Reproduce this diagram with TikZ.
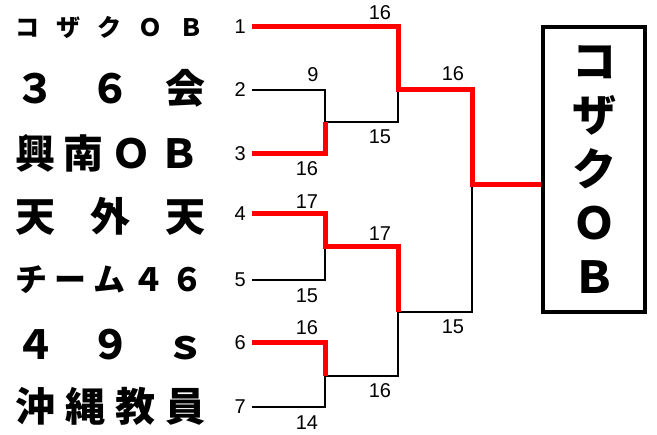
\documentclass[tikz,border=0pt]{standalone}
\usepackage{fontspec}
\setmainfont{Liberation Sans}
\newfontfamily\jpfont{Noto Sans CJK JP}
\definecolor{winred}{HTML}{FF0000}

\begin{document}
\begin{tikzpicture}[x=1pt, y=-1pt,
  seed/.style={anchor=east, inner xsep=6pt, inner ysep=0pt, font=\fontsize{20}{20}\selectfont},
  team/.style={anchor=west, inner sep=0pt, font=\jpfont\bfseries\fontsize{#1}{#1}\selectfont},
  score/.style={inner sep=0pt, font=\fontsize{20}{20}\selectfont},
  win/.style={draw=winred, line width=5pt},
  lose/.style={draw=black, line width=1.5pt},
  champbox/.style={draw, line width=3.5pt, minimum width=102pt, minimum height=285pt,
    inner sep=0pt, align=center, font=\jpfont\bfseries\fontsize{44}{54}\selectfont}]

  \useasboundingbox (0,0) rectangle (657,435);

  % Team names
  \node[team=24] (n1) at (15,27) {\makebox[188pt][s]{コ\hfill ザ\hfill ク\hfill Ｏ\hfill Ｂ}};
  \node[team=40] (n2) at (15,88) {\makebox[190pt][s]{３\hfill ６\hfill 会}};
  \node[team=40] (n3) at (15,153) {\makebox[184pt][s]{興\hfill 南\hfill Ｏ\hfill Ｂ}};
  \node[team=40] (n4) at (15,216) {\makebox[190pt][s]{天\hfill 外\hfill 天}};
  \node[team=32] (n5) at (15,280) {\makebox[188pt][s]{チ\hfill ー\hfill ム\hfill ４\hfill ６}};
  \node[team=40] (n6) at (15,345) {\makebox[190pt][s]{４\hfill ９\hfill ｓ}};
  \node[team=40] (n7) at (15,406) {\makebox[190pt][s]{沖\hfill 縄\hfill 教\hfill 員}};

  % Seed numbers
  \node[seed] (t1) at (252,27) {1};
  \node[seed] (t2) at (252,90) {2};
  \node[seed] (t3) at (252,154) {3};
  \node[seed] (t4) at (252,214) {4};
  \node[seed] (t5) at (252,280) {5};
  \node[seed] (t6) at (252,343) {6};
  \node[seed] (t7) at (252,407) {7};

  % Junctions of the bracket
  \coordinate (m23) at (325,122);
  \coordinate (m45) at (325,247);
  \coordinate (m67) at (325,376);
  \coordinate (s1) at (398,90);
  \coordinate (s2) at (398,312);
  \coordinate (f) at (472,185);

  % Champion
  \node[champbox] (champ) at (594,169.5) {コ\\ザ\\ク\\Ｏ\\Ｂ};

  % Losing sides
  \draw[lose] (t2.east) -| (m23) -| (s1);
  \draw[lose] (t5.east) -| (m45);
  \draw[lose] (t7.east) -| (m67) -| (s2);
  \draw[lose] (s2) -| (f);

  % Winning sides
  \draw[win] (t1.east) -| (s1) -| (f) -- (f -| champ.west);
  \draw[win] (t3.east) -| (m23);
  \draw[win] (t4.east) -| (m45) -| (s2);
  \draw[win] (t6.east) -| (m67);

  % Scores
  \node[score] (r1a) at (380,13) {16};
  \node[score] (r1b) at (380,137) {15};
  \node[score] (r2a) at (313,75) {9};
  \node[score] (r2b) at (307,169) {16};
  \node[score] (r3a) at (307,202) {17};
  \node[score] (r3b) at (307,296) {15};
  \node[score] (r4a) at (380,234) {17};
  \node[score] (r4b) at (380,391) {16};
  \node[score] (r5a) at (307,328) {16};
  \node[score] (r5b) at (307,423) {14};
  \node[score] (r6a) at (453,74) {16};
  \node[score] (r6b) at (453,327) {15};

\end{tikzpicture}
\end{document}
